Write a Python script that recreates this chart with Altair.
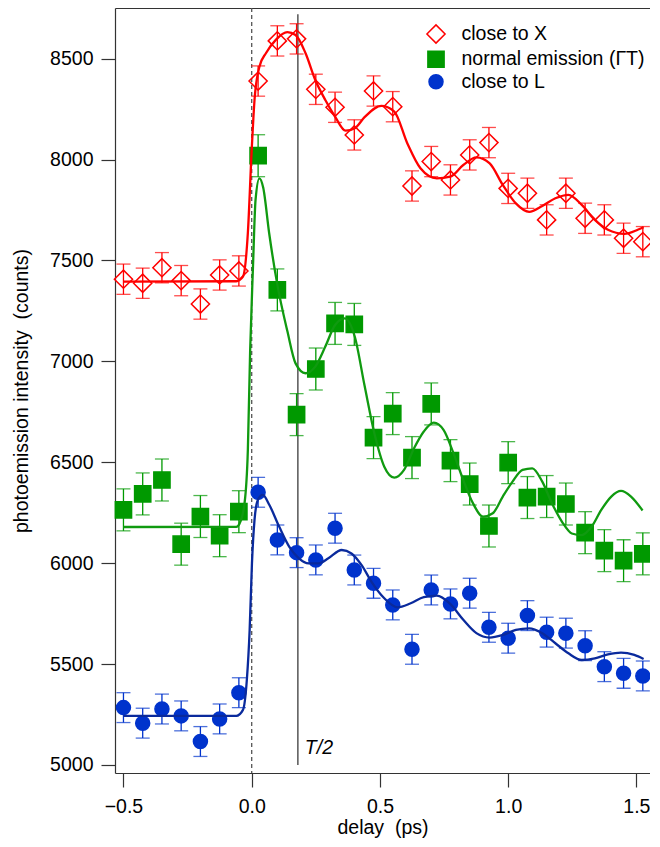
import altair as alt
import pandas as pd

# ---------------- data ----------------
DELAY = [-0.5, -0.425, -0.35, -0.275, -0.2, -0.125, -0.05, 0.025, 0.1, 0.175,
         0.25, 0.325, 0.4, 0.475, 0.55, 0.625, 0.7, 0.775, 0.85, 0.925,
         1.0, 1.075, 1.15, 1.225, 1.3, 1.375, 1.45, 1.525]

CLOSE_X = [7407, 7387, 7464, 7400, 7284, 7428, 7448, 8389, 8588, 8598,
           8348, 8259, 8122, 8340, 8262, 7869, 7990, 7899, 8023, 8084,
           7857, 7833, 7701, 7833, 7709, 7701, 7610, 7593]
NORMAL = [6264, 6343, 6412, 6094, 6231, 6136, 6255, 8019, 7354, 6736,
          6962, 7188, 7183, 6622, 6741, 6523, 6789, 6508, 6392, 6184,
          6498, 6325, 6330, 6293, 6151, 6062, 6012, 6046]
CLOSE_L = [5284, 5207, 5277, 5243, 5116, 5228, 5358, 6351, 6115, 6052,
           6016, 6173, 5966, 5900, 5793, 5573, 5867, 5798, 5851, 5682,
           5628, 5740, 5658, 5653, 5591, 5487, 5454, 5441]
ERRORS = [75, 104, 74]

RED_FIT_X = [-0.5, -0.06, -0.034, -0.015, 0.0, 0.011, 0.03, 0.056, 0.094, 0.139,
             0.171, 0.21, 0.248, 0.287, 0.325, 0.366, 0.402, 0.44, 0.505, 0.556,
             0.607, 0.658, 0.722, 0.774, 0.825, 0.876, 0.928, 0.979, 1.03, 1.082,
             1.133, 1.184, 1.235, 1.287, 1.338, 1.389, 1.453, 1.505, 1.528]
RED_FIT_Y = [7395, 7397, 7420, 7636, 8048, 8295, 8460, 8528, 8593, 8631,
             8617, 8527, 8394, 8295, 8213, 8143, 8155, 8210, 8266, 8238,
             8080, 7957, 7907, 7915, 7973, 8011, 7981, 7874, 7783, 7741,
             7770, 7808, 7825, 7775, 7701, 7652, 7632, 7652, 7665]

GREEN_FIT_X = [-0.5, -0.06, -0.047, -0.028, -0.015, -0.006, 0.005, 0.015, 0.03, 0.045,
               0.068, 0.1, 0.139, 0.171, 0.21, 0.248, 0.287, 0.325, 0.363, 0.402,
               0.44, 0.479, 0.517, 0.556, 0.594, 0.633, 0.671, 0.71, 0.748, 0.787,
               0.825, 0.863, 0.902, 0.94, 0.979, 1.017, 1.056, 1.094, 1.133, 1.171,
               1.21, 1.248, 1.287, 1.325, 1.363, 1.402, 1.44, 1.479, 1.524]
GREEN_FIT_Y = [6179, 6180, 6197, 6296, 6561, 7056, 7469, 7800, 7907, 7860,
               7636, 7380, 7150, 6990, 6941, 6974, 7073, 7180, 7213, 7122,
               6880, 6640, 6478, 6424, 6462, 6569, 6652, 6696, 6660, 6544,
               6412, 6296, 6230, 6247, 6330, 6404, 6462, 6470, 6404, 6296,
               6205, 6147, 6139, 6180, 6264, 6330, 6358, 6330, 6261]

BLUE_FIT_X = [-0.5, -0.06, -0.034, -0.019, -0.008, 0.001, 0.011, 0.024, 0.043, 0.069,
              0.107, 0.146, 0.184, 0.222, 0.261, 0.299, 0.351, 0.389, 0.428, 0.466,
              0.517, 0.569, 0.62, 0.671, 0.722, 0.774, 0.825, 0.876, 0.928, 0.979,
              1.03, 1.082, 1.133, 1.184, 1.235, 1.287, 1.338, 1.389, 1.44, 1.492,
              1.528]
BLUE_FIT_Y = [5243, 5243, 5273, 5421, 5669, 5999, 6214, 6313, 6338, 6288,
              6181, 6082, 6024, 5999, 5999, 6024, 6065, 6048, 5991, 5910,
              5826, 5781, 5801, 5831, 5839, 5798, 5719, 5653, 5631, 5644,
              5669, 5677, 5653, 5603, 5553, 5520, 5528, 5548, 5557, 5545,
              5525]

SERIES = ["close to X", "normal emission (\u0393T)", "close to L"]
MARKER_COLORS = ["#ff0000", "#009900", "#0033cc"]
FILL_COLORS = ["transparent", "#009900", "#0033cc"]
SHAPES = ["diamond", "square", "circle"]
SIZES = [330, 196, 200]
LINE_COLORS = ["#ff0000", "#109a10", "#0a2a9c"]

X_TICKS = [-0.5, 0.0, 0.5, 1.0, 1.5]
Y_TICKS = [5000, 5500, 6000, 6500, 7000, 7500, 8000, 8500]
X_DOMAIN = [-0.533, 1.553]
Y_DOMAIN = [4960, 8751]

T_HALF = [0.18]
T_HALF_Y = [5000]
T_HALF_Y2 = [8720]
T_LABEL = ["T/2"]
T_LABEL_Y = [5055]
ZERO_LINE = [0.0]

FONT = "Liberation Sans"

# ---------------- tables ----------------
rows = []
for name, vals, err, col in zip(SERIES, [CLOSE_X, NORMAL, CLOSE_L], ERRORS, MARKER_COLORS):
    for d, v in zip(DELAY, vals):
        rows.append({"series": name, "delay": d, "counts": v,
                     "lo": v - err, "hi": v + err, "col": col})
pts = pd.DataFrame(rows)

frows = []
for name, xs, ys, col in zip(SERIES, [RED_FIT_X, GREEN_FIT_X, BLUE_FIT_X],
                             [RED_FIT_Y, GREEN_FIT_Y, BLUE_FIT_Y], LINE_COLORS):
    for i, (d, v) in enumerate(zip(xs, ys)):
        frows.append({"series": name, "delay": d, "counts": v, "col": col, "i": i})
fits = pd.DataFrame(frows)

xs_scale = alt.Scale(domain=X_DOMAIN, nice=False, zero=False)
ys_scale = alt.Scale(domain=Y_DOMAIN, nice=False, zero=False)

y_axis = alt.Axis(values=Y_TICKS, format="d", tickSize=14, labelPadding=8,
                  title="photoemission intensity\u00a0 (counts)", titlePadding=18)
x_axis = alt.Axis(values=X_TICKS, format=".1f", tickSize=14, labelPadding=10,
                  title="delay\u00a0 (ps)", titlePadding=3)
top_axis = alt.Axis(orient="top", labels=False, ticks=False, title=None, domain=True)

legend = alt.Legend(title=None, orient="none", legendX=311, legendY=16)

# dashed zero line (also carries the top frame axis)
zero = alt.Chart(pd.DataFrame({"x": ZERO_LINE})).mark_rule(
    color="#555555", strokeDash=[4, 3], strokeWidth=1.3
).encode(x=alt.X("x:Q", scale=xs_scale, axis=top_axis))

# T/2 marker
thalf_df = pd.DataFrame({"x": T_HALF, "y": T_HALF_Y, "y2": T_HALF_Y2,
                         "label": T_LABEL, "ly": T_LABEL_Y})
thalf = alt.Chart(thalf_df).mark_rule(color="#555555", strokeWidth=1.5).encode(
    x=alt.X("x:Q", scale=xs_scale, axis=None),
    y=alt.Y("y:Q", scale=ys_scale, axis=y_axis),
    y2="y2:Q",
)
thalf_text = alt.Chart(thalf_df).mark_text(
    align="left", baseline="alphabetic", dx=7, font=FONT, fontSize=19.5,
    fontStyle="italic", color="black"
).encode(
    x=alt.X("x:Q", scale=xs_scale, axis=None),
    y=alt.Y("ly:Q", scale=ys_scale, axis=y_axis),
    text="label:N",
)

# error bars
bars = alt.Chart(pts).mark_rule(strokeWidth=1.3).encode(
    x=alt.X("delay:Q", scale=xs_scale, axis=None),
    y=alt.Y("lo:Q", scale=ys_scale, axis=y_axis),
    y2="hi:Q",
    color=alt.Color("col:N", scale=None),
)
caps_lo = alt.Chart(pts).mark_tick(orient="horizontal", size=14, thickness=1.3).encode(
    x=alt.X("delay:Q", scale=xs_scale, axis=None),
    y=alt.Y("lo:Q", scale=ys_scale, axis=y_axis),
    color=alt.Color("col:N", scale=None),
)
caps_hi = alt.Chart(pts).mark_tick(orient="horizontal", size=14, thickness=1.3).encode(
    x=alt.X("delay:Q", scale=xs_scale, axis=None),
    y=alt.Y("hi:Q", scale=ys_scale, axis=y_axis),
    color=alt.Color("col:N", scale=None),
)

# markers
markers = alt.Chart(pts).mark_point(filled=False, opacity=1, strokeWidth=1.5).encode(
    x=alt.X("delay:Q", scale=xs_scale, axis=x_axis),
    y=alt.Y("counts:Q", scale=ys_scale, axis=y_axis),
    shape=alt.Shape("series:N", scale=alt.Scale(domain=SERIES, range=SHAPES), legend=legend),
    stroke=alt.Stroke("series:N", scale=alt.Scale(domain=SERIES, range=MARKER_COLORS), legend=legend),
    fill=alt.Fill("series:N", scale=alt.Scale(domain=SERIES, range=FILL_COLORS), legend=legend),
    size=alt.Size("series:N", scale=alt.Scale(domain=SERIES, range=SIZES), legend=legend),
)

# fitted curves
lines = alt.Chart(fits).mark_line(strokeWidth=2.3, interpolate="monotone").encode(
    x=alt.X("delay:Q", scale=xs_scale, axis=None),
    y=alt.Y("counts:Q", scale=ys_scale, axis=y_axis),
    color=alt.Color("col:N", scale=None),
    detail="series:N",
    order="i:Q",
)

chart = alt.layer(
    zero, thalf, thalf_text, bars, caps_lo, caps_hi, markers, lines
).resolve_axis(
    x="independent"
).properties(
    width=535, height=765,
    autosize=alt.AutoSizeParams(type="none"),
    padding={"left": 107, "top": 0, "right": 0, "bottom": 66},
).configure_view(
    stroke=None
).configure_axis(
    labelFont=FONT, labelFontSize=19.5, titleFont=FONT, titleFontSize=19.5,
    titleFontWeight="normal", labelColor="black", titleColor="black",
    domainColor="#333333", tickColor="#333333", domainWidth=1.2, tickWidth=1.2,
    grid=False,
).configure_legend(
    labelFont=FONT, labelFontSize=19.5, labelColor="black", rowPadding=0.5,
    labelOffset=15.5, padding=0, symbolStrokeWidth=1.5, labelLimit=400,
)

chart.save("out.html", embed_options={"renderer": "svg", "actions": False})
